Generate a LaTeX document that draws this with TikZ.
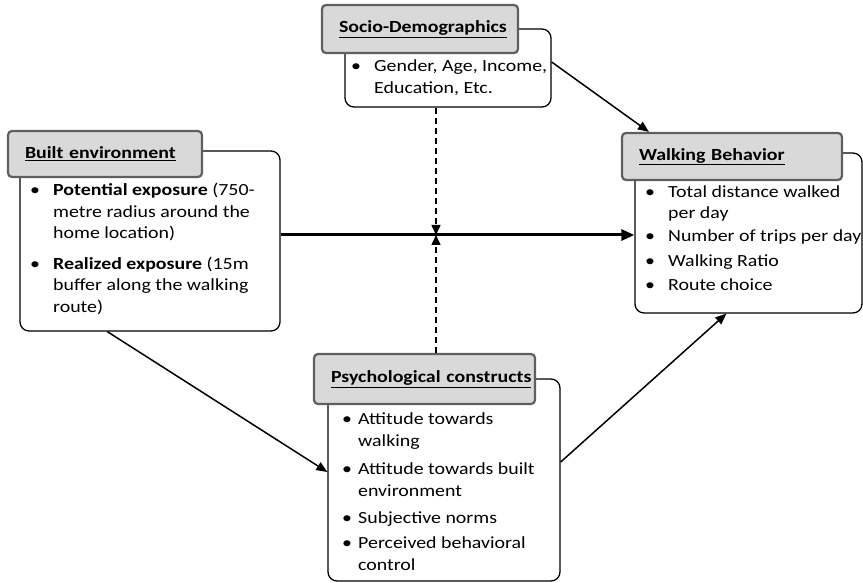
\documentclass[tikz,border=0pt]{standalone}
\usepackage{fontspec}
\setmainfont{Carlito}[FakeStretch=1.17]
\usetikzlibrary{arrows.meta}
\definecolor{hdrfill}{RGB}{217,217,217}
\definecolor{hdrline}{RGB}{95,95,95}
\newcommand{\hd}[1]{\textbf{\underline{#1}}}
\begin{document}
\begin{tikzpicture}[x=1pt,y=-1pt,
  mainbox/.style={draw=black,line width=1.3pt,rounded corners=9pt,fill=white,inner sep=0pt},
  hdrbox/.style={draw=hdrline,fill=hdrfill,line width=2.2pt,rounded corners=4pt,inner ysep=0pt,inner xsep=17pt,align=left,font=\fontsize{17}{20}\selectfont},
  listtxt/.style={anchor=base west,inner sep=0pt,font=\fontsize{17}{21.5}\selectfont},
  conn/.style={line width=1.5pt,-{Triangle[length=11pt,width=9pt]}},
  thickconn/.style={line width=3pt,-{Triangle[length=13pt,width=11pt]}},
  dashconn/.style={line width=1.5pt,dash pattern=on 6pt off 4pt,-{Triangle[length=10pt,width=9pt]}}
]
\useasboundingbox (0,0) rectangle (863,583);
% Built environment
\node[mainbox,minimum width=260pt,minimum height=180pt] (be) at (150,241) {};
\node[hdrbox,minimum height=46pt,text width=160pt] (beh) at (105,154) {\hd{Built environment}};
\node[listtxt] (bet) at (30,196) {\begin{tabular}[t]{@{}p{23pt}@{}l@{}}
\textbullet & \textbf{Potential exposure} (750-\\
 & metre radius around the\\
 & home location)\\[9pt]
\textbullet & \textbf{Realized exposure} (15m\\
 & buffer along the walking\\
 & route)
\end{tabular}};
% Socio-Demographics
\node[mainbox,minimum width=206pt,minimum height=78pt] (sd) at (448,68) {};
\node[hdrbox,minimum height=48pt,text width=162pt] (sdh) at (420,29) {\hd{Socio-Demographics}};
\node[listtxt] (sdt) at (351,72) {\begin{tabular}[t]{@{}p{23pt}@{}l@{}}
\textbullet & Gender, Age, Income,\\
 & Education, Etc.
\end{tabular}};
% Walking Behavior
\node[mainbox,minimum width=227pt,minimum height=160pt] (wb) at (748.5,233) {};
\node[hdrbox,minimum height=47pt,text width=186pt] (wbh) at (732,156.5) {\hd{Walking Behavior}};
\node[listtxt] (wbt) at (645,197) {\begin{tabular}[t]{@{}p{23pt}@{}l@{}}
\textbullet & Total distance walked\\
 & per day\\[2pt]
\textbullet & Number of trips per day\\[3pt]
\textbullet & Walking Ratio\\[3pt]
\textbullet & Route choice
\end{tabular}};
% Psychological constructs
\node[mainbox,minimum width=232pt,minimum height=202pt] (pc) at (444,480) {};
\node[hdrbox,minimum height=50pt,text width=187pt] (pch) at (424.5,379) {\hd{Psychological constructs}};
\node[listtxt,font=\fontsize{17}{22}\selectfont] (pct) at (342,424) {\begin{tabular}[t]{@{}p{16pt}@{}l@{}}
\textbullet & Attitude towards\\
 & walking\\[6pt]
\textbullet & Attitude towards built\\
 & environment\\[5pt]
\textbullet & Subjective norms\\[3pt]
\textbullet & Perceived behavioral\\
 & control
\end{tabular}};
% connectors
\coordinate (m) at (436,235);
\draw[thickconn] (be.east |- m) -- (wb.west |- m);
\draw[dashconn] (sd.south -| m) -- (m);
\draw[dashconn] (pch.north -| m) -- (m);
\draw[conn] ([yshift=6pt]sd.east) -- ([xshift=28pt]wbh.north west);
\draw[conn] ([xshift=88pt]be.south west) -- ([yshift=8pt]pc.west);
\draw[conn] ([yshift=18pt]pc.east) -- ([xshift=92pt]wb.south west);
\end{tikzpicture}
\end{document}
